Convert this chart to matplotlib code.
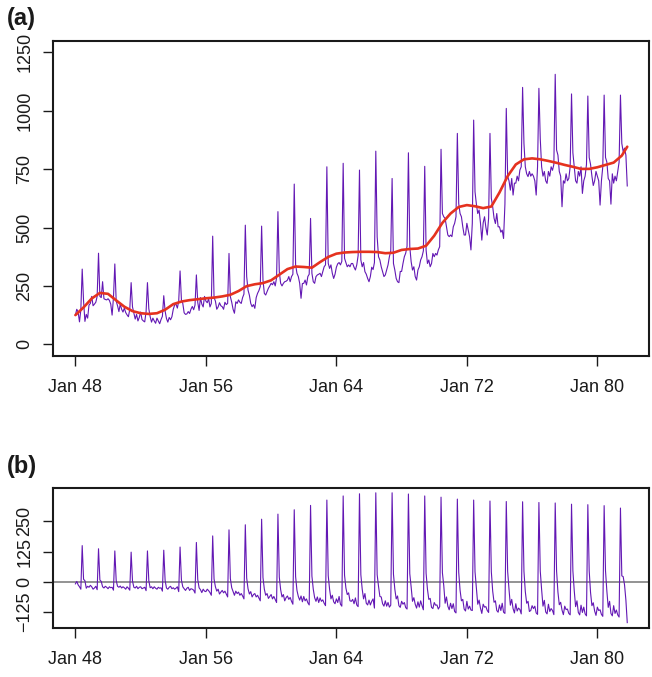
import numpy as np
import matplotlib
matplotlib.use("Agg")
import matplotlib.pyplot as plt

plt.rcParams['font.family'] = ['Liberation Sans', 'DejaVu Sans']

# Monthly series, Jan 1948 - Nov 1981 (one row per year)
observed = [
    125, 150, 138, 96, 148, 322, 185, 98, 128, 112, 168, 175,
    205, 165, 172, 180, 205, 390, 205, 200, 268, 195, 192, 190,
    195, 188, 172, 125, 200, 344, 185, 165, 140, 172, 150, 138,
    155, 136, 126, 118, 150, 264, 160, 135, 108, 128, 100, 115,
    138, 106, 100, 96, 140, 264, 152, 118, 95, 112, 100, 90,
    112, 100, 88, 106, 120, 208, 142, 110, 95, 115, 105, 118,
    150, 168, 172, 155, 185, 314, 190, 175, 135, 128, 130, 140,
    132, 150, 162, 148, 168, 297, 180, 145, 200, 172, 160, 205,
    185, 178, 195, 160, 175, 463, 200, 185, 150, 160, 178, 165,
    161, 150, 180, 170, 175, 389, 204, 180, 150, 133, 182, 175,
    190, 180, 175, 200, 215, 510, 290, 232, 210, 175, 161, 170,
    154, 200, 218, 230, 247, 506, 275, 218, 211, 225, 240, 250,
    261, 255, 268, 250, 285, 568, 311, 261, 250, 261, 268, 270,
    275, 290, 268, 290, 300, 686, 340, 304, 290, 261, 197, 260,
    261, 275, 254, 290, 300, 539, 304, 268, 261, 290, 297, 300,
    304, 290, 311, 332, 340, 760, 347, 325, 340, 304, 282, 300,
    330, 345, 350, 340, 355, 775, 368, 350, 332, 340, 332, 346,
    346, 330, 318, 340, 380, 746, 361, 332, 350, 311, 300, 282,
    268, 290, 330, 320, 350, 827, 460, 375, 361, 332, 311, 290,
    297, 318, 340, 375, 400, 710, 346, 318, 282, 268, 264, 312,
    312, 346, 375, 390, 420, 820, 418, 354, 318, 332, 290, 275,
    318, 332, 361, 375, 400, 762, 404, 346, 361, 332, 346, 389,
    375, 389, 382, 404, 418, 835, 560, 546, 539, 503, 468, 461,
    468, 461, 503, 518, 546, 903, 603, 560, 546, 503, 468, 468,
    518, 489, 460, 404, 518, 960, 653, 600, 560, 575, 520, 446,
    520, 546, 500, 468, 540, 903, 625, 589, 540, 517, 560, 503,
    503, 480, 489, 453, 600, 1010, 720, 700, 660, 710, 639, 690,
    690, 720, 700, 746, 760, 1100, 860, 760, 730, 718, 740, 720,
    730, 720, 700, 639, 760, 1096, 880, 760, 720, 740, 700, 689,
    740, 720, 760, 745, 770, 1156, 832, 810, 740, 720, 589, 700,
    690, 730, 700, 710, 760, 1072, 820, 760, 700, 690, 740, 720,
    760, 646, 700, 720, 770, 1063, 800, 770, 720, 680, 700, 740,
    720, 700, 596, 700, 760, 1067, 800, 780, 710, 700, 600, 730,
    690, 720, 700, 740, 780, 1067, 860, 825, 840, 810, 678,
]

# Smooth trend, sampled every six months (month index from Jan 1948)
trend_months = [0, 6, 12, 18, 24, 30, 36, 42, 48, 54, 60, 66, 72, 78, 84,
                90, 96, 102, 108, 114, 120, 126, 132, 138, 144, 150, 156,
                162, 168, 174, 180, 186, 192, 198, 204, 210, 216, 222, 228,
                234, 240, 246, 252, 258, 264, 270, 276, 282, 288, 294, 300,
                306, 312, 318, 324, 330, 336, 342, 348, 354, 360, 366, 372,
                378, 384, 390, 396, 402, 406]
trend_values = [125, 158, 196, 220, 216, 188, 161, 142, 133, 130, 133, 148,
                172, 183, 189, 193, 197, 200, 205, 212, 228, 249, 257, 262,
                274, 298, 322, 333, 331, 328, 352, 374, 388, 393, 395, 396,
                396, 395, 390, 392, 404, 408, 410, 422, 465, 520, 560, 588,
                596, 591, 583, 590, 650, 720, 770, 792, 796, 792, 785, 777,
                768, 760, 751, 751, 758, 768, 778, 808, 846]

# Detrended monthly series, Jan 1948 - Nov 1981
detrended = [
    -8, 2, -12, -20, -30, 150, 11, 5, -26, -18, -22, -14,
    -20, -30, -25, -18, -32, 137, 8, 2, -20, -25, -18, -22,
    -28, -20, -24, -22, -34, 128, 6, -18, -22, -17, -25, -20,
    -24, -30, -20, -26, -34, 123, 4, -22, -25, -18, -28, -22,
    -20, -28, -25, -22, -36, 128, 5, -24, -20, -28, -20, -26,
    -30, -22, -26, -24, -38, 131, 6, -25, -30, -22, -18, -28,
    -24, -30, -26, -20, -40, 144, 8, -20, -28, -35, -26, -22,
    -35, -28, -30, -34, -46, 163, 10, -24, -32, -44, -30, -38,
    -40, -30, -36, -44, -55, 190, 12, -20, -38, -30, -50, -42,
    -35, -45, -38, -50, -62, 215, 14, -24, -40, -55, -38, -48,
    -42, -55, -48, -58, -70, 236, 16, -28, -50, -40, -62, -52,
    -48, -62, -55, -66, -78, 259, 18, -30, -55, -48, -68, -60,
    -52, -70, -60, -72, -85, 280, 20, -32, -62, -52, -78, -65,
    -58, -72, -64, -80, -92, 298, 22, -35, -60, -75, -58, -82,
    -60, -78, -70, -86, -95, 316, 24, -30, -65, -80, -62, -85,
    -66, -80, -74, -88, -98, 338, 26, -30, -70, -55, -82, -90,
    -70, -85, -60, -92, -100, 355, 28, -25, -52, -45, -78, -80,
    -72, -90, -66, -95, -102, 364, 30, -30, -70, -48, -88, -95,
    -75, -95, -80, -70, -108, 368, 30, -18, -60, -62, -90, -100,
    -78, -100, -85, -104, -96, 368, 32, -30, -70, -58, -98, -105,
    -80, -92, -85, -106, -112, 363, 34, -20, -80, -65, -92, -108,
    -82, -104, -78, -98, -115, 355, 36, -30, -72, -68, -105, -110,
    -85, -96, -95, -112, -102, 350, 38, -15, -88, -62, -100, -115,
    -88, -110, -90, -122, -128, 342, 40, -34, -78, -72, -112, -120,
    -80, -112, -100, -116, -118, 338, 42, -26, -92, -75, -108, -130,
    -92, -104, -102, -118, -126, 334, 42, -38, -84, -78, -118, -125,
    -95, -118, -88, -125, -130, 332, 44, -30, -96, -72, -110, -128,
    -90, -120, -108, -114, -132, 331, 44, -40, -88, -80, -122, -118,
    -98, -110, -100, -128, -134, 328, 45, -32, -100, -76, -124, -132,
    -92, -122, -110, -118, -135, 326, 45, -42, -94, -84, -116, -135,
    -100, -114, -112, -130, -136, 321, 46, -36, -102, -78, -126, -136,
    -96, -126, -104, -132, -140, 319, 46, -44, -98, -86, -120, -138,
    -104, -118, -115, -134, -142, 315, 46, -38, -105, -80, -130, -140,
    -98, -130, -116, -136, -145, 305, 25, 22, -12, -75, -168,
]

x_tick_months = [0, 96, 192, 288, 384]
x_tick_labels = ["Jan 48", "Jan 56", "Jan 64", "Jan 72", "Jan 80"]
a_yticks = [0, 250, 500, 750, 1000, 1250]
b_yticks = [-125, 0, 125, 250]

LINE = "#6318b4"
TREND = "#e5321f"
INK = "#1a1a1a"

months = np.arange(len(observed))
months_b = np.arange(len(detrended))

fig = plt.figure(figsize=(6.52, 6.77), dpi=100)
ax_a = fig.add_axes([0.0818, 0.4742, 0.9141, 0.4657])
ax_b = fig.add_axes([0.0818, 0.0728, 0.9141, 0.2068])

ax_a.plot(months, observed, color=LINE, lw=0.8)
ax_a.plot(trend_months, trend_values, color=TREND, lw=1.9,
          solid_joinstyle="round", solid_capstyle="round")
ax_a.set_ylim(-50, 1300)
ax_a.set_yticks(a_yticks)
ax_a.set_yticklabels([str(v) for v in a_yticks], rotation=90, va="center")

ax_b.axhline(0, color="#808080", lw=1.2, zorder=1)
ax_b.plot(months_b, detrended, color=LINE, lw=0.8, zorder=2)
ax_b.set_ylim(-189, 389)
ax_b.set_yticks(b_yticks)
ax_b.set_yticklabels([str(v).replace("-", "\u2212") for v in b_yticks],
                     rotation=90, va="center")

n = len(observed) - 1
for ax in (ax_a, ax_b):
    ax.set_xlim(-0.04 * n, n * 1.04)
    ax.set_xticks(x_tick_months)
    ax.set_xticklabels(x_tick_labels)
    for s in ax.spines.values():
        s.set_linewidth(1.5)
        s.set_color(INK)
    ax.tick_params(axis="both", direction="out", length=7.5, width=1.0,
                   color=INK, labelcolor=INK, labelsize=13)
    ax.tick_params(axis="x", pad=9)
    ax.tick_params(axis="y", pad=7)

fig.text(7 / 652, 1 - 7 / 677, "(a)", fontsize=17, fontweight="bold",
         ha="left", va="top", color=INK)
fig.text(7 / 652, 1 - 455 / 677, "(b)", fontsize=17, fontweight="bold",
         ha="left", va="top", color=INK)

fig.savefig("out.png", dpi=100)
